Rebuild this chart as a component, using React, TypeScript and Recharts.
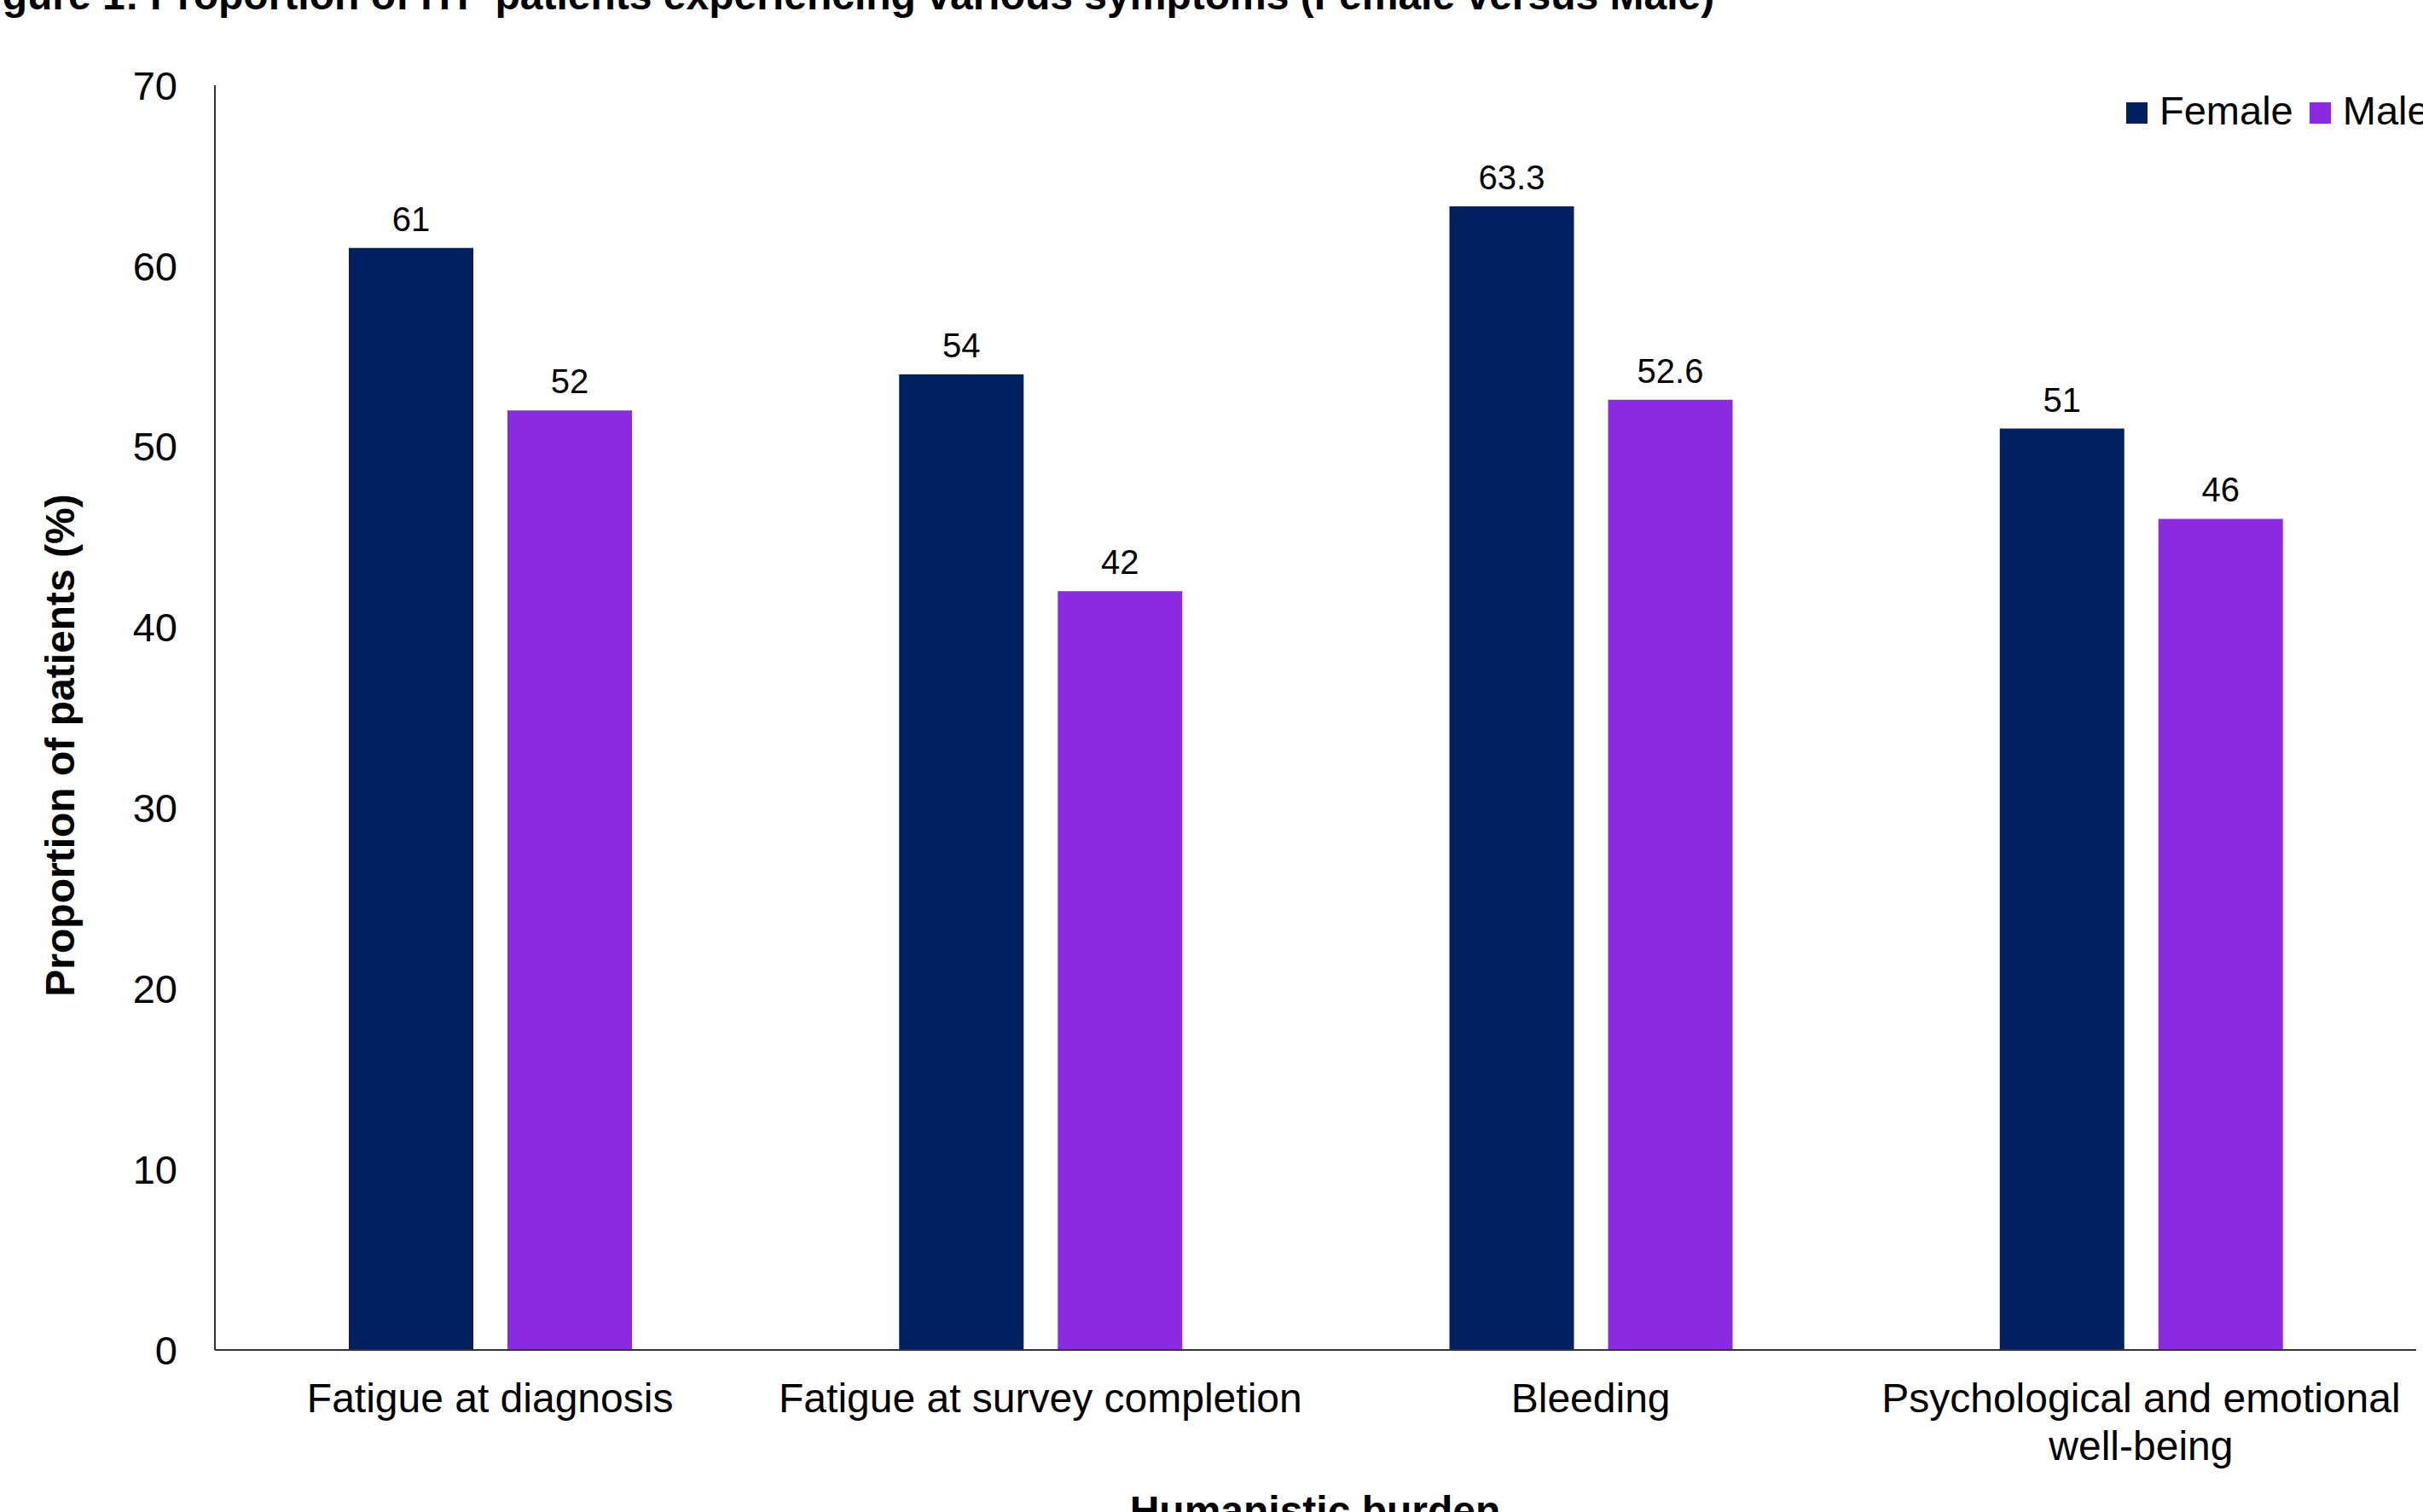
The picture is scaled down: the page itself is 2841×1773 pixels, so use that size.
import React from 'react'
import { BarChart, Bar, XAxis, YAxis, Legend, LabelList } from 'recharts'

const categories = [
  'Fatigue at diagnosis',
  'Fatigue at survey completion',
  'Bleeding',
  'Psychological and emotional\nwell-being',
]
const female = [61, 54, 63.3, 51]
const male = [52, 42, 52.6, 46]
const yTicks = [0, 10, 20, 30, 40, 50, 60, 70]

const FONT = '"Liberation Sans", Arial, sans-serif'
const NAVY = '#002060'
const VIOLET = '#8A2BE2'

const data = categories.map((name, i) => ({ name, Female: female[i], Male: male[i] }))

function CategoryTick({ x, y, payload }: any) {
  const lines = String(payload.value).split('\n')
  return (
    <text x={x} y={y + 73} textAnchor="middle" fontSize={48} fontFamily={FONT} fill="#000">
      {lines.map((l, i) => (
        <tspan key={i} x={x} dy={i === 0 ? 0 : 56}>{l}</tspan>
      ))}
    </text>
  )
}

function LegendBox({ payload }: any) {
  return (
    <div style={{ display: 'flex', alignItems: 'center', fontFamily: FONT, fontSize: 47, lineHeight: '47px', whiteSpace: 'nowrap' }}>
      {(payload || []).map((p: any) => (
        <span key={p.value} style={{ display: 'flex', alignItems: 'center', marginRight: 19 }}>
          <span style={{ display: 'inline-block', width: 25, height: 25, background: p.color, marginRight: 14, position: 'relative', top: 3 }} />
          <span>{p.value}</span>
        </span>
      ))}
    </div>
  )
}

export default function App() {
  return (
    <div style={{ position: 'absolute', left: 0, top: 0, width: 2841, height: 1773, background: '#fff', overflow: 'hidden' }}>
      <BarChart
        width={2841}
        height={1773}
        data={data}
        margin={{ top: 100, right: 8, bottom: 0, left: 0 }}
        barCategoryGap={157}
        barGap={40}
        style={{ fontFamily: FONT }}
      >
        <text x={-40} y={11} fontSize={48} fontWeight="bold" fontFamily={FONT} fill="#000">
          Figure 1: Proportion of ITP patients experiencing various symptoms (Female versus Male)
        </text>
        <text
          x={87}
          y={874}
          transform="rotate(-90, 87, 874)"
          textAnchor="middle"
          fontSize={48}
          fontWeight="bold"
          fontFamily={FONT}
          fill="#000"
        >
          Proportion of patients (%)
        </text>
        <text x={1542} y={1788} textAnchor="middle" fontSize={48} fontWeight="bold" fontFamily={FONT} fill="#000">
          Humanistic burden
        </text>
        <XAxis
          dataKey="name"
          height={190}
          interval={0}
          tickLine={false}
          tickSize={0}
          tickMargin={0}
          axisLine={{ stroke: '#333', strokeWidth: 2 }}
          tick={<CategoryTick />}
        />
        <YAxis
          width={252}
          domain={[0, 70]}
          ticks={yTicks}
          interval={0}
          tickLine={false}
          tickSize={0}
          tickMargin={44}
          axisLine={{ stroke: '#333', strokeWidth: 2 }}
          tick={{ fontSize: 47, fill: '#000', fontFamily: FONT }}
        />
        <Legend
          layout="horizontal"
          verticalAlign="middle"
          align="center"
          content={<LegendBox />}
          wrapperStyle={{ top: 106, left: 2493, width: 500, height: 50 }}
        />
        <Bar dataKey="Female" fill={NAVY} isAnimationActive={false}>
          <LabelList dataKey="Female" position="top" offset={20} fontSize={40} fill="#000" fontFamily={FONT} />
        </Bar>
        <Bar dataKey="Male" fill={VIOLET} isAnimationActive={false}>
          <LabelList dataKey="Male" position="top" offset={20} fontSize={40} fill="#000" fontFamily={FONT} />
        </Bar>
      </BarChart>
    </div>
  )
}
